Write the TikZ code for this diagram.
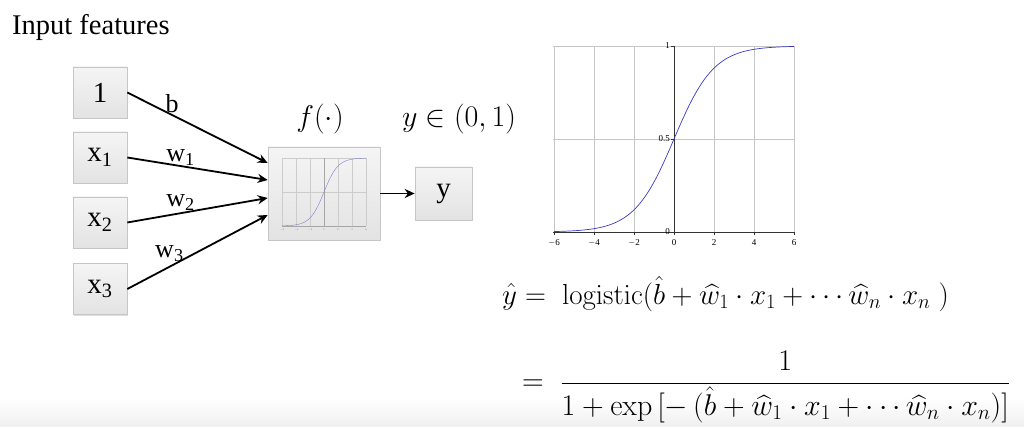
\RequirePackage{fix-cm}
\documentclass[tikz,border=0pt]{standalone}
\usepackage[no-math]{fontspec}
\setmainfont{Liberation Serif}
\usepackage{amsmath}
\usetikzlibrary{arrows.meta,shadows}
\begin{document}
\begin{tikzpicture}[x=1pt,y=-1pt,
  inbox/.style={draw=gray!45, line width=0.6pt, top color=gray!8, bottom color=gray!22,
     minimum width=54pt, minimum height=51pt, inner sep=0pt,
     drop shadow={shadow xshift=1pt, shadow yshift=-1.5pt, opacity=0.25},
     font=\fontsize{29}{31}\selectfont},
  wlab/.style={font=\fontsize{26}{28}\selectfont, inner sep=0pt},
  conn/.style={line width=1.8pt, -{Stealth[length=10pt,width=9pt]}},
  grid/.style={gray!45, line width=0.5pt},
  sig/.style={blue!55!gray, line width=0.7pt}]
\useasboundingbox (0,0) rectangle (1024,427);
\shade[top color=white, bottom color=gray!12] (0,398) rectangle (1024,427);

\node[anchor=base west, inner sep=0pt, font=\fontsize{28.5}{31}\selectfont] (title) at (12,35) {Input features};

\node[inbox] (one) at (100,92.5) {1};
\node[inbox] (x1) at (100,157.5) {x\textsubscript{1}};
\node[inbox] (x2) at (100,222.5) {x\textsubscript{2}};
\node[inbox] (x3) at (100,289) {x\textsubscript{3}};

\node[inbox, minimum width=112pt, minimum height=93pt] (f) at (324,193.5) {};
\node[inbox, minimum width=57pt, minimum height=53pt] (y) at (443.5,193.5) {y};

% mini sigmoid inside f
\begin{scope}
  \foreach \i in {-6,-4,...,6} \draw[gray!40, line width=0.3pt] ({324+7*\i},158) -- ({324+7*\i},226);
  \foreach \v in {0,0.5,1} \draw[gray!40, line width=0.3pt] (282,{226-68*\v}) -- (366,{226-68*\v});
  \draw[gray!70, line width=0.4pt] (324,158) -- (324,226);
  \draw[gray!70, line width=0.4pt] (282,226) -- (366,226);
  \foreach \i in {-6,-4,...,6} \node[font=\fontsize{2.5}{3}\selectfont, text=gray, inner sep=0pt] at ({324+7*\i},230) {$\i$};
  \draw[blue!45!gray!70, line width=0.4pt] plot[domain=-6:6, samples=60] ({324+7*\x},{226-68/(1+exp(-\x))});
\end{scope}

\draw[conn] (one.east) -- (f.west |- 0,163) node[wlab, pos=0.32, above=1pt] (lb) {b};
\draw[conn] (x1.east) -- (f.west |- 0,180) node[wlab, pos=0.38, above=0pt] (lw1) {w\textsubscript{1}};
\draw[conn] (x2.east) -- (f.west |- 0,198) node[wlab, pos=0.38, above=2pt] (lw2) {w\textsubscript{2}};
\draw[conn] (x3.east) -- (f.west |- 0,215) node[wlab, pos=0.3, above=4pt] (lw3) {w\textsubscript{3}};
\draw[conn] (f.east) -- (y.west);

\node[font=\fontsize{30}{33}\selectfont] (flab) at (320,119) {$f(\cdot)$};
\node[font=\fontsize{30}{33}\selectfont] (ylab) at (459,119) {$y \in (0,1)$};

% big sigmoid plot
\begin{scope}
  \foreach \i in {-6,-4,...,6} \draw[grid] ({674+20*\i},46) -- ({674+20*\i},232);
  \foreach \v in {0,0.5,1} \draw[grid] (553,{232-186*\v}) -- (794,{232-186*\v});
  \draw[black!80, line width=0.6pt] (674,46) -- (674,232);
  \draw[black!80, line width=0.6pt] (553,232) -- (794,232);
  \foreach \i in {-6,-4,...,6} {
    \draw[black!80, line width=0.5pt] ({674+20*\i},232) -- ({674+20*\i},235);
    \node[font=\fontsize{9}{10}\selectfont, inner sep=0pt] at ({674+20*\i},243) {\ifnum\i<0 $-$\number-\i\else\i\fi};
  }
  \foreach \v/\t in {0/0,0.5/0.5,1/1} {
    \draw[black!80, line width=0.5pt] (671,{232-186*\v}) -- (674,{232-186*\v});
    \node[font=\fontsize{9}{10}\selectfont, anchor=east, inner sep=0pt] at (670,{232-186*\v}) {\t};
  }
  \draw[sig] plot[domain=-6:6, samples=120] ({674+20*\x},{232-186/(1+exp(-\x))});
\end{scope}

\node[anchor=base west, inner sep=0pt, font=\fontsize{29}{32}\selectfont] (eq1) at (502,304)
  {$\hat{y} =\;\mathrm{logistic}(\hat{b} + \widehat{w}_1\cdot x_1 + \cdots \widehat{w}_n\cdot x_n\;)$};
\node[anchor=base west, inner sep=0pt, font=\fontsize{30}{33}\selectfont] (eq2) at (522,390.5)
  {$\displaystyle = \;\frac{1}{1+\exp\,[-\,(\hat{b} + \widehat{w}_1\cdot x_1 + \cdots \widehat{w}_n\cdot x_n)]}$};
\end{tikzpicture}
\end{document}
